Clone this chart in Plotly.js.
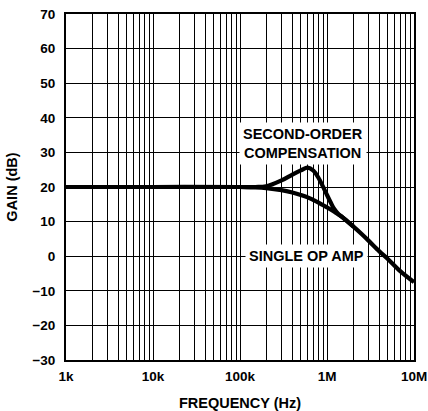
<!DOCTYPE html>
<html>
<head>
<meta charset="utf-8">
<script src="https://cdn.plot.ly/plotly-3.0.1.min.js"></script>
<style>
html,body{margin:0;padding:0;background:#fff;}
#chart{width:428px;height:411px;}
</style>
</head>
<body>
<div id="chart"></div>
<script>
// Frequency (Hz) and gain (dB)
const freqSingle = [1e3, 1e4, 1e5, 1.5e5, 2e5, 3e5, 4e5, 5e5, 6e5, 7e5, 8e5, 1e6, 1.2e6, 1.5e6, 2e6, 2.5e6, 3e6, 4e6, 5e6, 7e6, 1e7];
const gainSingle = [20, 20, 20, 19.9, 19.7, 19.1, 18.4, 17.7, 17.0, 16.2, 15.5, 14.1, 12.9, 11.3, 8.6, 6.4, 4.5, 1.4, -0.8, -4.4, -7.5];

const freqSecond = [1e3, 1e4, 1e5, 1.5e5, 2e5, 3e5, 4e5, 5e5, 6e5, 7e5, 8e5, 9e5, 1e6, 1.1e6, 1.2e6, 1.35e6, 1.5e6, 2e6];
const gainSecond = [20, 20, 20, 20.0, 20.2, 21.9, 23.6, 24.8, 25.6, 24.7, 22.6, 20.1, 17.7, 15.6, 13.8, 12.2, 11.3, 8.6];

const xTickVals = [1e3, 1e4, 1e5, 1e6, 1e7];
const xTickText = ['1k', '10k', '100k', '1M', '10M'];
const yTickVals = [-30, -20, -10, 0, 10, 20, 30, 40, 50, 60, 70];

const labelSecond = 'SECOND-ORDER<br>COMPENSATION';
const labelSingle = 'SINGLE OP AMP';

const minorVals = [];
for (let d = 1e3; d < 1e7; d *= 10) {
  for (let k = 2; k <= 9; k++) minorVals.push(d * k);
}

const fontFam = '"Liberation Sans", Arial, sans-serif';

const traces = [
  {x: freqSecond, y: gainSecond, mode: 'lines', line: {color: '#000', width: 4.2, shape: 'spline', smoothing: 1}, hoverinfo: 'skip'},
  {x: freqSingle, y: gainSingle, mode: 'lines', line: {color: '#000', width: 4.2, shape: 'spline', smoothing: 1}, hoverinfo: 'skip'}
];

const layout = {
  width: 428, height: 411,
  margin: {l: 66, r: 14, t: 14, b: 51},
  paper_bgcolor: '#fff', plot_bgcolor: '#fff',
  showlegend: false,
  font: {family: fontFam, color: '#000'},
  xaxis: {
    type: 'log', range: [3, 7],
    tickmode: 'array', tickvals: xTickVals, ticktext: xTickText,
    showgrid: true, gridcolor: '#000', gridwidth: 1,
    showline: true, linecolor: '#000', linewidth: 2, mirror: true,
    ticks: '', ticklen: 0, ticklabelstandoff: 3,
    tickfont: {family: fontFam, size: 13.5, weight: 'bold', color: '#000'},
    minor: {tickmode: 'array', tickvals: minorVals, showgrid: true, gridcolor: '#000', gridwidth: 1, ticks: ''},
    zeroline: false,
    title: {text: 'FREQUENCY (Hz)', font: {family: fontFam, size: 14.5, weight: 'bold', color: '#000'}, standoff: 16}
  },
  yaxis: {
    range: [-30, 70],
    tickmode: 'array', tickvals: yTickVals,
    showgrid: true, gridcolor: '#000', gridwidth: 1,
    showline: true, linecolor: '#000', linewidth: 2, mirror: true,
    ticks: '', ticklen: 0, ticklabelstandoff: 6,
    tickfont: {family: fontFam, size: 13.5, weight: 'bold', color: '#000'},
    zeroline: false,
    title: {text: 'GAIN (dB)', font: {family: fontFam, size: 14.5, weight: 'bold', color: '#000'}, standoff: 11}
  },
  annotations: [
    {x: 5.72, y: 32.5, xref: 'x', yref: 'y', text: labelSecond, showarrow: false,
     font: {family: fontFam, size: 14.5, weight: 'bold', color: '#000'},
     bgcolor: '#fff', borderpad: 3, align: 'center'},
    {x: 5.762, y: 0, xref: 'x', yref: 'y', text: labelSingle, showarrow: false,
     font: {family: fontFam, size: 14.5, weight: 'bold', color: '#000'},
     bgcolor: '#fff', borderpad: 3, align: 'center'}
  ]
};

Plotly.newPlot('chart', traces, layout, {displayModeBar: false, staticPlot: true});
</script>
</body>
</html>
